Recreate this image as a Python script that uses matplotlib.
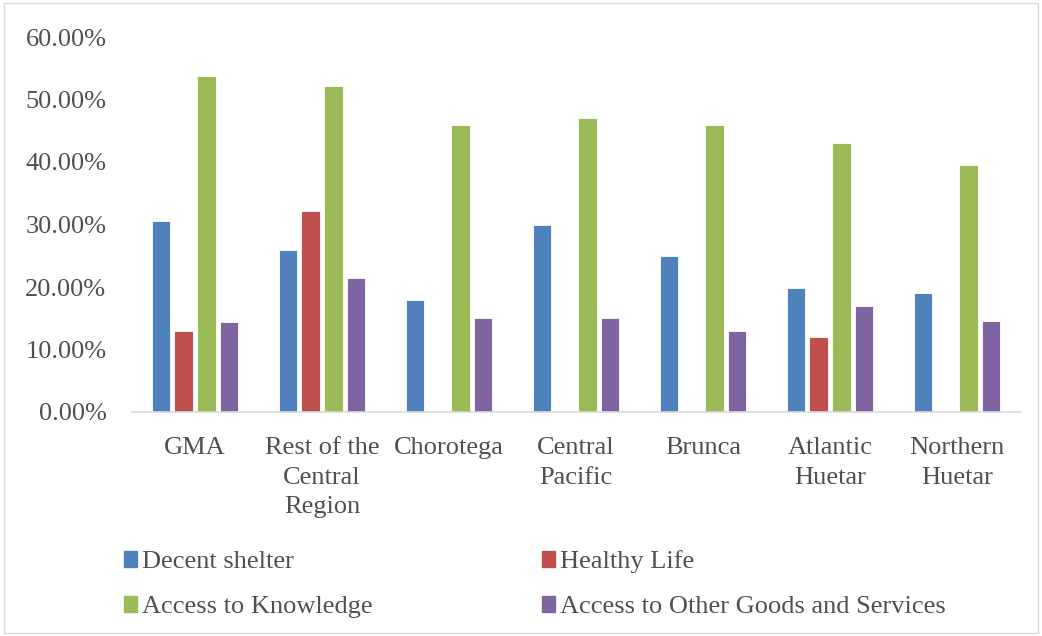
import matplotlib.pyplot as plt
import matplotlib.patches as mpatches
import numpy as np
from matplotlib.ticker import FuncFormatter

plt.rcParams['font.family'] = ['Liberation Serif', 'DejaVu Serif']

regions = ["GMA", "Rest of the\nCentral\nRegion", "Chorotega", "Central\nPacific",
           "Brunca", "Atlantic\nHuetar", "Northern\nHuetar"]
series = ["Decent shelter", "Healthy Life", "Access to Knowledge",
          "Access to Other Goods and Services"]
decent_shelter = [30.6, 26.0, 18.0, 30.0, 25.0, 19.8, 19.0]
healthy_life = [12.9, 32.1, 0.0, 0.0, 0.0, 12.0, 0.0]
access_knowledge = [53.8, 52.2, 46.0, 47.0, 46.0, 43.0, 39.5]
access_other = [14.4, 21.5, 15.0, 15.0, 13.0, 17.0, 14.5]
colors = ["#4F81BD", "#C0504D", "#9BBB59", "#8064A2"]

values = [decent_shelter, healthy_life, access_knowledge, access_other]

fig = plt.figure(figsize=(10.42, 6.36), dpi=100)
ax = fig.add_axes([131.5 / 1042, 1 - 412 / 636, 889 / 1042, 375 / 636])

x = np.arange(len(regions))
width = 0.142
step = 0.181
for i, (vals, col) in enumerate(zip(values, colors)):
    offs = (i - 1.5) * step
    ax.bar(x + offs, vals, width, color=col, edgecolor="white", linewidth=0.6, label=series[i])

ax.set_xlim(-0.5, len(regions) - 0.5)
ax.set_ylim(0, 60)
ax.set_yticks(np.arange(0, 61, 10))
ax.yaxis.set_major_formatter(FuncFormatter(lambda v, p: "%.2f%%" % v))
ax.set_xticks(x)
ax.set_xticklabels(regions, linespacing=1.45)

for s in ["top", "right", "left"]:
    ax.spines[s].set_visible(False)
ax.spines["bottom"].set_color("#D9D9D9")
ax.spines["bottom"].set_linewidth(1.2)
ax.tick_params(axis="both", length=0, labelsize=19, labelcolor="#505050")
ax.tick_params(axis="y", pad=18)
ax.tick_params(axis="x", pad=18)

handles = [mpatches.Patch(color=c) for c in colors]
order = [0, 2, 1, 3]
fig.legend([handles[i] for i in order], [series[i] for i in order],
           loc="upper left", bbox_to_anchor=(124 / 1042, 1 - 550 / 636), ncol=2,
           frameon=False, fontsize=19, handlelength=0.5, handleheight=0.55,
           handletextpad=0.2, columnspacing=6.4, labelspacing=0.86,
           labelcolor="#505050", borderaxespad=0, borderpad=0)

fig.patches.append(mpatches.Rectangle((0.004, 0.004), 0.992, 0.992, transform=fig.transFigure,
                                      fill=False, edgecolor="#D9D9D9", linewidth=1))

fig.savefig("out.png", dpi=100)
